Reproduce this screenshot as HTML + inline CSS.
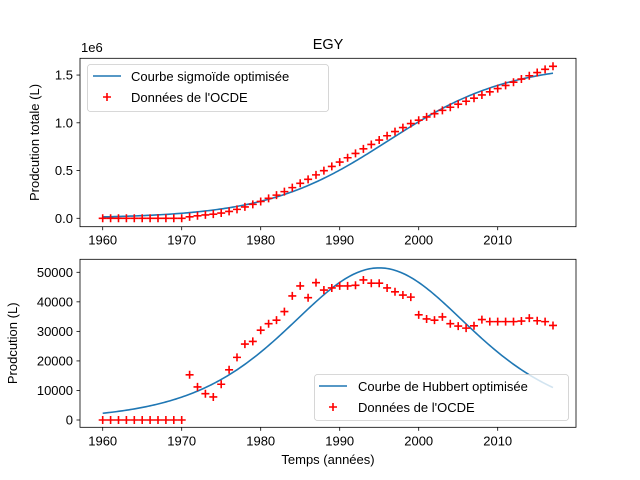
<!DOCTYPE html>
<html><head><meta charset="utf-8"><style>
body{margin:0;background:#fff}
svg{display:block;font-family:"Liberation Sans","DejaVu Sans",sans-serif}
</style></head><body>
<svg id="chart" width="640" height="480" viewBox="0 0 640 480">
<rect width="640" height="480" fill="#fff"/>
</svg>
<script>
const years = [];
for (let y = 1960; y <= 2017; y++) years.push(y);
const production = [0,0,0,0,0,0,0,0,0,0,0,15300,11200,8900,7800,12100,17000,21200,25700,26600,30400,32600,33800,36700,42000,45400,41400,46500,44000,44700,45400,45400,45600,47400,46300,46300,44700,43400,42300,41600,35600,34200,33800,34900,32600,31800,31100,31900,34000,33300,33300,33300,33300,33500,34500,33600,33300,32000];
const topTicks = [0, 0.5, 1.0, 1.5];
const topTickLabels = ["0.0","0.5","1.0","1.5"];
const botTicks = [0,10000,20000,30000,40000,50000];
const xTicks = [1960,1970,1980,1990,2000,2010];
const sigmoidParams = [1.62e6, 0.13, 1996.1];   // K, k, t0
const hubbertParams = [51500, 0.128, 1995];    // peak, k, tm

const NS = "http://www.w3.org/2000/svg";
const svg = document.getElementById('chart');
function el(tag, attrs, parent) {
  const e = document.createElementNS(NS, tag);
  for (const k in attrs) e.setAttribute(k, attrs[k]);
  (parent || svg).appendChild(e);
  return e;
}
function txt(s, attrs, parent) { const t = el('text', attrs, parent); t.textContent = s; return t; }

const X0 = 80, X1 = 576;
const xs = y => 102.7 + (y - 1960) * 7.9;
const yTop = v => 218.3 - v / 1e6 * 95.5;
const yBot = v => 420 - v * 147.7 / 50000;

const cumulative = [];
production.reduce((a, v, i) => (cumulative[i] = a + v), 0);

function plus(g, x, y, name) {
  const p = el('path', {d:`M${x-4},${y}h8M${x},${y-4}v8`, stroke:'#ff0000', 'stroke-width':1.6, fill:'none'}, g);
  
  
}

function axes(top, bottom, name, yticks, ylabFn, ymap, ylabel, yLabelX) {
  const g = el('g', {});
  
  
  yticks.forEach((t, i) => {
    const y = ymap(t);
    el('line', {x1:X0-3.5, x2:X0, y1:y, y2:y, stroke:'#000', 'stroke-width':0.8}, g);
    const l = txt(ylabFn(t, i), {x:X0-7, y:y+4.5, 'font-size':13, 'text-anchor':'end', fill:'#000'}, g);
    
    
  });
  xTicks.forEach(t => {
    const x = xs(t);
    el('line', {x1:x, x2:x, y1:bottom, y2:bottom+3.5, stroke:'#000', 'stroke-width':0.8}, g);
    const l = txt(String(t), {x:x, y:bottom+18, 'font-size':13, 'text-anchor':'middle', fill:'#000'}, g);
    
    
  });
  const yl = txt(ylabel, {x:yLabelX, y:(top+bottom)/2, 'font-size':13, 'text-anchor':'middle', transform:`rotate(-90 ${yLabelX} ${(top+bottom)/2})`}, g);
  
  
  return g;
}

// ---- top panel
axes(58.3, 226.7, 'top-axes', topTicks, (t,i)=>topTickLabels[i], v=>yTop(v*1e6), 'Prodcution totale (L)', 39);
let d = '';
for (let t = 1960; t <= 2017; t += 0.25) {
  const [K,k,t0] = sigmoidParams;
  const v = K / (1 + Math.exp(-k*(t - t0)));
  d += (d ? 'L' : 'M') + xs(t).toFixed(2) + ',' + yTop(v).toFixed(2);
}
const sc = el('path', {d, stroke:'#1f77b4', 'stroke-width':1.6, fill:'none'});


const gtp = el('g', {});


years.forEach((y, i) => plus(gtp, xs(y), yTop(cumulative[i]), 'cumulative-point'));
el('rect', {x:X0, y:58.3, width:X1-X0, height:168.4, fill:'none', stroke:'#000', 'stroke-width':0.8});
const title = txt('EGY', {x:328, y:49, 'font-size':14.5, 'text-anchor':'middle'});


const off = txt('1e6', {x:81, y:52, 'font-size':13});


const lg1 = el('g', {});


el('rect', {x:87.5, y:64.5, width:241, height:47, rx:3, fill:'#fff', 'fill-opacity':0.8, stroke:'#ccc', 'stroke-width':0.8}, lg1);
el('line', {x1:93, x2:121, y1:76, y2:76, stroke:'#1f77b4', 'stroke-width':1.6}, lg1);
txt('Courbe sigmoïde optimisée', {x:131, y:81, 'font-size':13}, lg1);
plus(lg1, 107, 97, 'legend-marker');
txt("Données de l'OCDE", {x:131, y:102, 'font-size':13}, lg1);

// ---- bottom panel
axes(259.3, 427.3, 'bottom-axes', botTicks, t=>String(t), yBot, 'Prodcution (L)', 17);
d = '';
for (let t = 1960; t <= 2017; t += 0.25) {
  const [P,k,tm] = hubbertParams;
  const e = Math.exp(-k*(t - tm));
  const v = P * 4 * e / Math.pow(1 + e, 2);
  d += (d ? 'L' : 'M') + xs(t).toFixed(2) + ',' + yBot(v).toFixed(2);
}
const hc = el('path', {d, stroke:'#1f77b4', 'stroke-width':1.6, fill:'none'});


const gbp = el('g', {});


years.forEach((y, i) => plus(gbp, xs(y), yBot(production[i]), 'production-point'));
el('rect', {x:X0, y:259.3, width:X1-X0, height:168, fill:'none', stroke:'#000', 'stroke-width':0.8});
const xl = txt('Temps (années)', {x:328, y:464, 'font-size':13, 'text-anchor':'middle'});


const lg2 = el('g', {});


el('rect', {x:314.5, y:374.5, width:254, height:46, rx:3, fill:'#fff', 'fill-opacity':0.8, stroke:'#ccc', 'stroke-width':0.8}, lg2);
el('line', {x1:319, x2:347, y1:386, y2:386, stroke:'#1f77b4', 'stroke-width':1.6}, lg2);
txt('Courbe de Hubbert optimisée', {x:358, y:391, 'font-size':13}, lg2);
plus(lg2, 333, 407, 'legend-marker');
txt("Données de l'OCDE", {x:358, y:412, 'font-size':13}, lg2);
</script>
</body></html>
